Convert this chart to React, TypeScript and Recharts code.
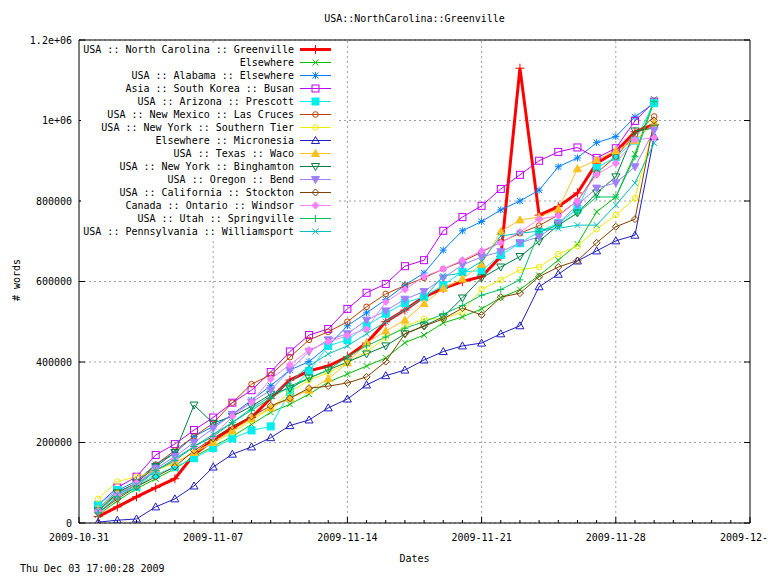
import { CartesianGrid, Legend, Line, LineChart, ReferenceLine, XAxis, YAxis } from 'recharts';

const FONT = '"DejaVu Sans Mono", "Liberation Mono", monospace';
const GRID = '#a0a0a0';

// one sample per day, 2009-11-01 .. 2009-11-30
const dates = [
  '2009-11-01', '2009-11-02', '2009-11-03', '2009-11-04', '2009-11-05', '2009-11-06',
  '2009-11-07', '2009-11-08', '2009-11-09', '2009-11-10', '2009-11-11', '2009-11-12',
  '2009-11-13', '2009-11-14', '2009-11-15', '2009-11-16', '2009-11-17', '2009-11-18',
  '2009-11-19', '2009-11-20', '2009-11-21', '2009-11-22', '2009-11-23', '2009-11-24',
  '2009-11-25', '2009-11-26', '2009-11-27', '2009-11-28', '2009-11-29', '2009-11-30',
];

const majorDates = ['2009-10-31', '2009-11-07', '2009-11-14', '2009-11-21', '2009-11-28', '2009-12-05'];
const gridDates = ['2009-11-07', '2009-11-14', '2009-11-21', '2009-11-28'];
const yTicks = [0, 200000, 400000, 600000, 800000, 1000000, 1200000];

const greenville = [16000, 40000, 65000, 88000, 110000, 170000, 206000, 236000, 262000, 310000, 355000, 378000, 390000, 413000, 447000, 500000, 529000, 562000, 583000, 600000, 612000, 662000, 1130000, 765000, 786000, 820000, 894000, 922000, 972000, 990000];
const elsewhere = [20000, 55000, 85000, 110000, 135000, 165000, 190000, 215000, 245000, 275000, 295000, 320000, 350000, 370000, 390000, 410000, 448000, 467000, 497000, 512000, 532000, 560000, 580000, 615000, 653000, 693000, 773000, 810000, 917000, 1053000];
const alabama = [35000, 80000, 105000, 145000, 175000, 215000, 240000, 270000, 305000, 341000, 380000, 401000, 440000, 490000, 522000, 555000, 591000, 621000, 678000, 726000, 749000, 778000, 800000, 827000, 885000, 907000, 945000, 960000, 1009000, 1043000];
const busan = [45000, 88000, 115000, 169000, 196000, 231000, 262000, 299000, 330000, 375000, 426000, 467000, 482000, 532000, 572000, 594000, 638000, 653000, 726000, 760000, 788000, 830000, 865000, 900000, 922000, 933000, 907000, 931000, 999000, 1047000];
const prescott = [45000, 82000, 90000, 120000, 139000, 161000, 186000, 210000, 230000, 240000, 326000, 378000, 440000, 455000, 490000, 520000, 547000, 562000, 591000, 624000, 627000, 666000, 695000, 724000, 745000, 780000, 882000, 909000, 950000, 1043000];
const lasCruces = [30000, 75000, 100000, 145000, 180000, 215000, 248000, 299000, 345000, 368000, 412000, 455000, 475000, 500000, 537000, 569000, 590000, 609000, 631000, 650000, 673000, 698000, 720000, 739000, 765000, 800000, 870000, 910000, 965000, 1010000];
const southernTier = [60000, 103000, 115000, 130000, 150000, 175000, 200000, 225000, 255000, 285000, 325000, 355000, 373000, 398000, 426000, 460000, 488000, 507000, 507000, 525000, 581000, 604000, 629000, 636000, 668000, 688000, 730000, 765000, 807000, 990000];
const micronesia = [2000, 7000, 10000, 40000, 60000, 92000, 139000, 171000, 189000, 212000, 242000, 256000, 286000, 308000, 343000, 366000, 380000, 405000, 426000, 440000, 447000, 470000, 490000, 587000, 618000, 651000, 676000, 701000, 715000, 960000];
const waco = [35000, 75000, 95000, 135000, 150000, 175000, 200000, 230000, 260000, 286000, 310000, 330000, 358000, 398000, 447000, 477000, 504000, 545000, 583000, 606000, 643000, 724000, 753000, 760000, 780000, 880000, 902000, 925000, 950000, 994000];
const binghamton = [30000, 75000, 100000, 140000, 175000, 293000, 248000, 265000, 290000, 320000, 335000, 360000, 380000, 400000, 420000, 440000, 470000, 490000, 512000, 559000, 609000, 636000, 662000, 700000, 740000, 770000, 820000, 860000, 974000, 981000];
const bend = [25000, 65000, 95000, 135000, 165000, 200000, 235000, 270000, 300000, 330000, 380000, 426000, 455000, 470000, 504000, 527000, 556000, 575000, 609000, 641000, 661000, 674000, 696000, 711000, 745000, 790000, 832000, 845000, 885000, 976000];
const stockton = [25000, 60000, 90000, 115000, 140000, 180000, 210000, 240000, 265000, 291000, 310000, 335000, 340000, 348000, 363000, 401000, 470000, 489000, 507000, 534000, 517000, 561000, 571000, 612000, 636000, 652000, 696000, 736000, 755000, 1000000];
const windsor = [30000, 70000, 100000, 131000, 157000, 190000, 215000, 265000, 300000, 358000, 393000, 430000, 450000, 465000, 482000, 549000, 580000, 612000, 631000, 653000, 676000, 696000, 723000, 755000, 763000, 800000, 865000, 894000, 952000, 957000];
const springville = [25000, 65000, 90000, 130000, 155000, 190000, 215000, 250000, 280000, 310000, 340000, 360000, 380000, 413000, 440000, 462000, 484000, 500000, 519000, 540000, 566000, 580000, 604000, 724000, 740000, 770000, 810000, 810000, 910000, 1047000];
const williamsport = [30000, 70000, 95000, 130000, 160000, 190000, 220000, 250000, 285000, 315000, 350000, 390000, 420000, 440000, 470000, 500000, 530000, 560000, 614000, 621000, 650000, 713000, 720000, 725000, 732000, 740000, 740000, 790000, 845000, 944000];

type Shape = 'plus' | 'cross' | 'star' | 'square' | 'squareFill' | 'circle' | 'triangle' | 'triangleFill' | 'triangleDown' | 'triangleDownFill' | 'diamond' | 'diamondFill';

interface Series {
  key: string;
  name: string;
  color: string;
  shape: Shape;
  width: number;
  values: number[];
}

const series: Series[] = [
  { key: 'greenville', name: 'USA :: North Carolina :: Greenville', color: '#ff0000', shape: 'plus', width: 3, values: greenville },
  { key: 'elsewhere', name: 'Elsewhere', color: '#00c000', shape: 'cross', width: 1, values: elsewhere },
  { key: 'alabama', name: 'USA :: Alabama :: Elsewhere', color: '#0080ff', shape: 'star', width: 1, values: alabama },
  { key: 'busan', name: 'Asia :: South Korea :: Busan', color: '#c000ff', shape: 'square', width: 1, values: busan },
  { key: 'prescott', name: 'USA :: Arizona :: Prescott', color: '#00eeee', shape: 'squareFill', width: 1, values: prescott },
  { key: 'lasCruces', name: 'USA :: New Mexico :: Las Cruces', color: '#c04000', shape: 'circle', width: 1, values: lasCruces },
  { key: 'southernTier', name: 'USA :: New York :: Southern Tier', color: '#eeee00', shape: 'circle', width: 1, values: southernTier },
  { key: 'micronesia', name: 'Elsewhere :: Micronesia', color: '#2020c0', shape: 'triangle', width: 1, values: micronesia },
  { key: 'waco', name: 'USA :: Texas :: Waco', color: '#ffc020', shape: 'triangleFill', width: 1, values: waco },
  { key: 'binghamton', name: 'USA :: New York :: Binghamton', color: '#008040', shape: 'triangleDown', width: 1, values: binghamton },
  { key: 'bend', name: 'USA :: Oregon :: Bend', color: '#a080ff', shape: 'triangleDownFill', width: 1, values: bend },
  { key: 'stockton', name: 'USA :: California :: Stockton', color: '#804000', shape: 'diamond', width: 1, values: stockton },
  { key: 'windsor', name: 'Canada :: Ontario :: Windsor', color: '#ff80ff', shape: 'diamondFill', width: 1, values: windsor },
  { key: 'springville', name: 'USA :: Utah :: Springville', color: '#00c060', shape: 'plus', width: 1, values: springville },
  { key: 'williamsport', name: 'USA :: Pennsylvania :: Williamsport', color: '#00c0c0', shape: 'cross', width: 1, values: williamsport },
];

const toTime = (d: string) => Date.parse(`${d}T00:00:00Z`);
const DAY = 86400000;
const START = toTime(majorDates[0]);
const END = toTime(majorDates[majorDates.length - 1]);
const majorTimes = majorDates.map(toTime);
const dayTicks: number[] = [];
for (let t = START; t <= END; t += DAY) dayTicks.push(t);

const data = dates.map((d, i) => {
  const row: Record<string, number> = { t: toTime(d) };
  series.forEach((s) => {
    row[s.key] = s.values[i];
  });
  return row;
});

function fmtDate(t: number) {
  return new Date(t).toISOString().slice(0, 10);
}

function fmtCount(v: number) {
  if (v >= 1000000) return `${v / 1000000}e+06`;
  return String(v);
}

function Marker({ shape, x, y, color, big }: { shape: Shape; x: number; y: number; color: string; big?: boolean }) {
  const s = big ? 4.5 : 3.5;
  const c = 3;
  switch (shape) {
    case 'plus':
      return <path d={`M${x - s} ${y}H${x + s}M${x} ${y - s}V${y + s}`} stroke={color} strokeWidth={1} fill="none" />;
    case 'cross':
      return <path d={`M${x - c} ${y - c}L${x + c} ${y + c}M${x - c} ${y + c}L${x + c} ${y - c}`} stroke={color} fill="none" />;
    case 'star':
      return (
        <path
          d={`M${x - s} ${y}H${x + s}M${x} ${y - s}V${y + s}M${x - c} ${y - c}L${x + c} ${y + c}M${x - c} ${y + c}L${x + c} ${y - c}`}
          stroke={color}
          fill="none"
        />
      );
    case 'square':
      return <rect x={x - 3.5} y={y - 3.5} width={7} height={7} stroke={color} fill="none" />;
    case 'squareFill':
      return <rect x={x - 3.5} y={y - 3.5} width={7} height={7} stroke={color} fill={color} />;
    case 'circle':
      return <circle cx={x} cy={y} r={2.8} stroke={color} fill="none" />;
    case 'triangle':
      return <path d={`M${x} ${y - 4}L${x + 4} ${y + 3}L${x - 4} ${y + 3}Z`} stroke={color} fill="none" />;
    case 'triangleFill':
      return <path d={`M${x} ${y - 4}L${x + 4} ${y + 3}L${x - 4} ${y + 3}Z`} stroke={color} fill={color} />;
    case 'triangleDown':
      return <path d={`M${x} ${y + 4}L${x + 4} ${y - 3}L${x - 4} ${y - 3}Z`} stroke={color} fill="none" />;
    case 'triangleDownFill':
      return <path d={`M${x} ${y + 4}L${x + 4} ${y - 3}L${x - 4} ${y - 3}Z`} stroke={color} fill={color} />;
    case 'diamond':
      return <path d={`M${x} ${y - 3.5}L${x + 3.5} ${y}L${x} ${y + 3.5}L${x - 3.5} ${y}Z`} stroke={color} fill="none" />;
    case 'diamondFill':
    default:
      return <path d={`M${x} ${y - 3.5}L${x + 3.5} ${y}L${x} ${y + 3.5}L${x - 3.5} ${y}Z`} stroke={color} fill={color} />;
  }
}

const dotFor = (s: Series) => (props: any) => {
  const { cx, cy, index } = props;
  if (cx == null || cy == null) return <g key={`${s.key}-${index}`} />;
  return (
    <g key={`${s.key}-${index}`}>
      <Marker shape={s.shape} x={cx} y={cy} color={s.color} big={s.width > 1} />
    </g>
  );
};

function BottomTick({ x, y, payload }: any) {
  const major = majorTimes.includes(payload.value);
  return (
    <g>
      <line x1={x} x2={x} y1={y} y2={y - (major ? 6 : 3)} stroke="#000" />
      {major && (
        <text x={x} y={y + 18} textAnchor="middle" fontFamily={FONT} fontSize={10} fill="#000">
          {fmtDate(payload.value)}
        </text>
      )}
    </g>
  );
}

function TopTick({ x, y, payload }: any) {
  const major = majorTimes.includes(payload.value);
  return <line x1={x} x2={x} y1={y} y2={y + (major ? 6 : 3)} stroke="#000" />;
}

function LeftTick({ x, y, payload }: any) {
  return (
    <g>
      <line x1={x} x2={x + 6} y1={y} y2={y} stroke="#000" />
      <text x={x - 7} y={y + 3.5} textAnchor="end" fontFamily={FONT} fontSize={10} fill="#000">
        {fmtCount(payload.value)}
      </text>
    </g>
  );
}

function RightTick({ x, y }: any) {
  return <line x1={x} x2={x - 6} y1={y} y2={y} stroke="#000" />;
}

function KeyBox() {
  return (
    <div style={{ position: 'relative', width: 256, height: 196, background: '#fff', fontFamily: FONT, fontSize: 10 }}>
      {series.map((s, i) => (
        <div key={s.key} style={{ position: 'absolute', left: 0, top: i * 13, height: 13, display: 'flex', alignItems: 'center' }}>
          <div style={{ width: 213, textAlign: 'right', whiteSpace: 'nowrap', lineHeight: '13px', color: '#000' }}>{s.name}</div>
          <svg width={37} height={13} style={{ marginLeft: 6, display: 'block' }}>
            <line x1={0} x2={31} y1={6.5} y2={6.5} stroke={s.color} strokeWidth={s.width} />
            <Marker shape={s.shape} x={15.5} y={6.5} color={s.color} big={s.width > 1} />
          </svg>
        </div>
      ))}
    </div>
  );
}

export default function App() {
  return (
    <div style={{ position: 'absolute', left: 0, top: 0, width: 768, height: 576, background: '#fff', fontFamily: FONT, fontSize: 10, color: '#000' }}>
      <LineChart width={768} height={576} data={data} margin={{ top: 39, right: 0, bottom: 0, left: 0 }}>
        <CartesianGrid vertical={false} stroke={GRID} strokeDasharray="2 3" />
        {gridDates.map((d) => (
          <ReferenceLine key={d} x={toTime(d)} stroke={GRID} strokeDasharray="2 3" />
        ))}
        <XAxis
          dataKey="t"
          type="number"
          domain={[START, END]}
          ticks={dayTicks}
          interval={0}
          allowDataOverflow
          height={53}
          tickSize={0}
          tickMargin={0}
          tickLine={false}
          tick={<BottomTick />}
          axisLine={{ stroke: '#000' }}
          label={{ value: 'Dates', position: 'insideBottom', offset: 14, fill: '#000', fontSize: 10, fontFamily: FONT }}
        />
        <XAxis
          xAxisId="top"
          orientation="top"
          type="number"
          domain={[START, END]}
          ticks={dayTicks}
          interval={0}
          allowDataOverflow
          height={1}
          tickSize={0}
          tickMargin={0}
          tickLine={false}
          tick={<TopTick />}
          axisLine={{ stroke: '#000' }}
        />
        <YAxis
          type="number"
          domain={[0, 1200000]}
          ticks={yTicks}
          interval={0}
          allowDataOverflow
          width={79}
          tickSize={0}
          tickMargin={0}
          tickLine={false}
          tick={<LeftTick />}
          axisLine={{ stroke: '#000' }}
        />
        <YAxis
          yAxisId="right"
          orientation="right"
          type="number"
          domain={[0, 1200000]}
          ticks={yTicks}
          interval={0}
          allowDataOverflow
          width={18}
          tickSize={0}
          tickMargin={0}
          tickLine={false}
          tick={<RightTick />}
          axisLine={{ stroke: '#000' }}
        />
        <Legend
          layout="vertical"
          align="center"
          verticalAlign="middle"
          content={<KeyBox />}
          wrapperStyle={{ position: 'absolute', left: 81, top: 43, width: 256, height: 196 }}
        />
        {series.map((s) => (
          <Line
            key={s.key}
            type="linear"
            dataKey={s.key}
            name={s.name}
            stroke={s.color}
            strokeWidth={s.width}
            dot={dotFor(s)}
            activeDot={false}
            isAnimationActive={false}
          />
        ))}
      </LineChart>
      <div style={{ position: 'absolute', left: 79, top: 13, width: 671, textAlign: 'center', lineHeight: '12px' }}>
        USA::NorthCarolina::Greenville
      </div>
      <div
        style={{
          position: 'absolute',
          left: 17,
          top: 280,
          transform: 'translate(-50%, -50%) rotate(-90deg)',
          whiteSpace: 'nowrap',
          lineHeight: '12px',
        }}
      >
        # words
      </div>
      <div style={{ position: 'absolute', left: 20, top: 563, lineHeight: '12px', whiteSpace: 'nowrap' }}>
        Thu Dec 03 17:00:28 2009
      </div>
    </div>
  );
}
